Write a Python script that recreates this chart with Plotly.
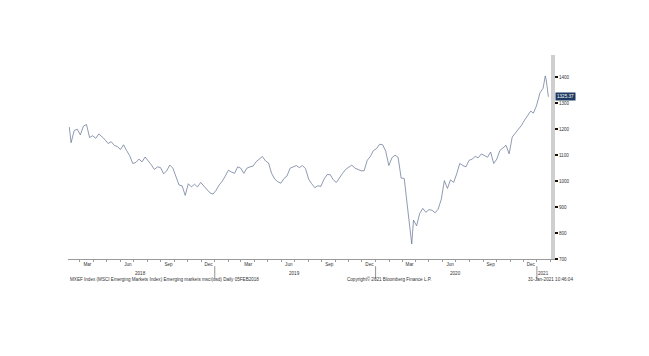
import plotly.graph_objects as go

dates = [
    "2018-02-05", "2018-02-09", "2018-02-16", "2018-02-23", "2018-03-02", "2018-03-09", "2018-03-16", "2018-03-23", "2018-03-30",
    "2018-04-06", "2018-04-13", "2018-04-20", "2018-04-27", "2018-05-04", "2018-05-11", "2018-05-18", "2018-05-25",
    "2018-06-01", "2018-06-08", "2018-06-15", "2018-06-22", "2018-06-29", "2018-07-06", "2018-07-13", "2018-07-20", "2018-07-27",
    "2018-08-03", "2018-08-10", "2018-08-17", "2018-08-24", "2018-08-31", "2018-09-07", "2018-09-14", "2018-09-21", "2018-09-28",
    "2018-10-05", "2018-10-12", "2018-10-19", "2018-10-26", "2018-11-02", "2018-11-09", "2018-11-16", "2018-11-23", "2018-11-30",
    "2018-12-07", "2018-12-14", "2018-12-21", "2018-12-28",
    "2019-01-04", "2019-01-11", "2019-01-18", "2019-01-25", "2019-02-01", "2019-02-08", "2019-02-15", "2019-02-22",
    "2019-03-01", "2019-03-08", "2019-03-15", "2019-03-22", "2019-03-29", "2019-04-05", "2019-04-12", "2019-04-19", "2019-04-26",
    "2019-05-03", "2019-05-10", "2019-05-17", "2019-05-24", "2019-05-31", "2019-06-07", "2019-06-14", "2019-06-21", "2019-06-28",
    "2019-07-05", "2019-07-12", "2019-07-19", "2019-07-26", "2019-08-02", "2019-08-09", "2019-08-16", "2019-08-23", "2019-08-30",
    "2019-09-06", "2019-09-13", "2019-09-20", "2019-09-27", "2019-10-04", "2019-10-11", "2019-10-18", "2019-10-25",
    "2019-11-01", "2019-11-08", "2019-11-15", "2019-11-22", "2019-11-29", "2019-12-06", "2019-12-13", "2019-12-20", "2019-12-27",
    "2020-01-03", "2020-01-10", "2020-01-17", "2020-01-24", "2020-01-31", "2020-02-07", "2020-02-14", "2020-02-21", "2020-02-28",
    "2020-03-06", "2020-03-13", "2020-03-18", "2020-03-20", "2020-03-23", "2020-03-27", "2020-04-03", "2020-04-10", "2020-04-17", "2020-04-24",
    "2020-05-01", "2020-05-08", "2020-05-15", "2020-05-22", "2020-05-29", "2020-06-05", "2020-06-12", "2020-06-19", "2020-06-26",
    "2020-07-03", "2020-07-10", "2020-07-17", "2020-07-24", "2020-07-31", "2020-08-07", "2020-08-14", "2020-08-21", "2020-08-28",
    "2020-09-04", "2020-09-11", "2020-09-18", "2020-09-25", "2020-10-02", "2020-10-09", "2020-10-16", "2020-10-23", "2020-10-30",
    "2020-11-06", "2020-11-13", "2020-11-20", "2020-11-27", "2020-12-04", "2020-12-11", "2020-12-18", "2020-12-24", "2020-12-31",
    "2021-01-08", "2021-01-15", "2021-01-20", "2021-01-22", "2021-01-27",
]
values = [
    1208, 1148, 1195, 1200, 1178, 1212, 1218, 1168, 1175,
    1165, 1182, 1172, 1160, 1145, 1152, 1138, 1133,
    1122, 1140, 1118, 1098, 1068, 1072, 1085, 1074, 1093,
    1080, 1063, 1045, 1055, 1052, 1028, 1040, 1062, 1050,
    1018, 985, 982, 945, 990, 978, 988, 978, 995,
    982, 972, 955, 950,
    965, 985, 1000, 1020, 1042, 1035, 1030, 1055,
    1050, 1030, 1050, 1055, 1058, 1075, 1085, 1095, 1078,
    1070, 1030, 1008, 998, 992, 1010, 1020, 1050, 1055,
    1060, 1052, 1060, 1048, 1008, 990, 975, 982, 980,
    1008, 1025, 1025, 1005, 995, 1015, 1030, 1045,
    1055, 1062, 1050, 1045, 1040, 1040, 1080, 1095, 1118,
    1125, 1142, 1140, 1115, 1060, 1090, 1100, 1092, 1012,
    1010, 905, 830, 780, 758, 850, 828, 875, 895, 880,
    890, 888, 878, 892, 930, 1002, 972, 1005, 995,
    1028, 1068, 1060, 1055, 1080, 1085, 1095, 1090, 1105,
    1100, 1092, 1112, 1068, 1085, 1118, 1128, 1138, 1105,
    1170, 1185, 1200, 1215, 1235, 1252, 1270, 1262, 1290,
    1340, 1358, 1405, 1392, 1325.37,
]

month_vals = ["2018-03-18", "2018-06-18", "2018-09-18", "2018-12-18",
              "2019-03-18", "2019-06-18", "2019-09-18", "2019-12-18",
              "2020-03-18", "2020-06-18", "2020-09-18", "2020-12-18"]
month_text = ["Mar", "Jun", "Sep", "Dec"] * 3
year_pos = ["2018-07-17", "2019-07-02", "2020-07-01", "2021-01-17"]
year_text = ["2018", "2019", "2020", "2021"]
year_bounds = ["2019-01-01", "2020-01-01", "2021-01-01"]
y_ticks = [700, 800, 900, 1000, 1100, 1200, 1300, 1400]
last_value = 1325.37

fig = go.Figure()
fig.add_trace(go.Scatter(x=dates, y=values, mode="lines",
                         line=dict(color="#5e6e90", width=0.7), hoverinfo="skip"))

font_small = dict(family="Liberation Sans, Arial", size=4.6, color="#333333")

fig.update_layout(
    width=641, height=348,
    margin=dict(l=60, r=98, t=47, b=97),
    paper_bgcolor="white", plot_bgcolor="white",
    showlegend=False,
    xaxis=dict(
        type="date", range=["2018-02-02", "2021-02-02"],
        tickvals=month_vals, ticktext=month_text, ticks="", tickfont=font_small,
        showgrid=False, zeroline=False,
        showline=True, linecolor="#9a9a9a", linewidth=1,
        minor=dict(dtick="M1", tick0="2018-01-01", ticks="outside", ticklen=2,
                   tickcolor="#9a9a9a", showgrid=False),
    ),
    yaxis=dict(
        side="right", range=[700, 1486], tickvals=y_ticks,
        ticks="outside", ticklen=3, tickwidth=2, tickcolor="#111111",
        tickfont=font_small, showgrid=False, zeroline=False,
        showline=True, linecolor="#cfcfcf", linewidth=4,
    ),
)

for xv, t in zip(year_pos, year_text):
    fig.add_annotation(x=xv, y=-0.07, xref="x", yref="paper", text=t,
                       showarrow=False, font=font_small, xanchor="center", yanchor="middle")
for b in year_bounds:
    fig.add_shape(type="line", x0=b, x1=b, xref="x", yref="paper", y0=-0.035, y1=-0.1,
                  line=dict(color="#777777", width=0.8))

fig.add_annotation(x=1.0, y=last_value, xref="paper", yref="y",
                   text=f"{last_value:.2f}", showarrow=False, xanchor="left", xshift=4,
                   bgcolor="#1f3b63", font=dict(family="Liberation Sans, Arial", size=4.6, color="white"),
                   borderpad=1)

fig.add_annotation(x=0, y=-0.1, xref="paper", yref="paper", xanchor="left", yanchor="middle",
                   text="MXEF Index (MSCI Emerging Markets Index) Emerging markets msci(usd) Daily 05FEB2018",
                   showarrow=False, font=font_small)
fig.add_annotation(x=0.573, y=-0.1, xref="paper", yref="paper", xanchor="left", yanchor="middle",
                   text="Copyright© 2021 Bloomberg Finance L.P.", showarrow=False, font=font_small)
fig.add_annotation(x=1.05, y=-0.1, xref="paper", yref="paper", xanchor="right", yanchor="middle",
                   text="31-Jan-2021 10:46:04", showarrow=False, font=font_small)

fig.write_html("out.html")
